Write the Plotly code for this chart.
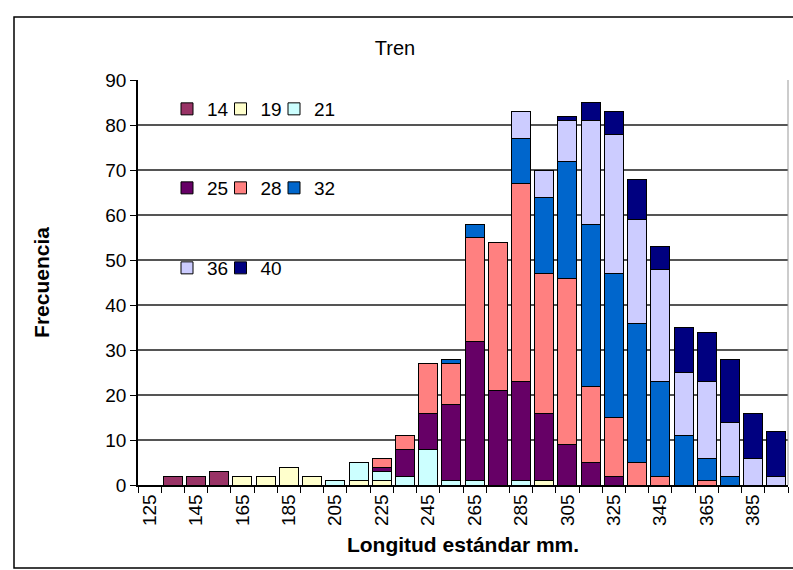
import plotly.graph_objects as go

# Categories (Longitud estándar, mm)
lengths = [125, 135, 145, 155, 165, 175, 185, 195, 205, 215, 225, 235, 245, 255,
           265, 275, 285, 295, 305, 315, 325, 335, 345, 355, 365, 375, 385, 395]

s14 = [0, 2, 2, 3, 0, 0, 0, 0, 0, 0, 0, 0, 0, 0, 0, 0, 0, 0, 0, 0, 0, 0, 0, 0, 0, 0, 0, 0]
s19 = [0, 0, 0, 0, 2, 2, 4, 2, 0, 1, 1, 0, 0, 0, 0, 0, 0, 1, 0, 0, 0, 0, 0, 0, 0, 0, 0, 0]
s21 = [0, 0, 0, 0, 0, 0, 0, 0, 1, 4, 2, 2, 8, 1, 1, 0, 1, 0, 0, 0, 0, 0, 0, 0, 0, 0, 0, 0]
s25 = [0, 0, 0, 0, 0, 0, 0, 0, 0, 0, 1, 6, 8, 17, 31, 21, 22, 15, 9, 5, 2, 0, 0, 0, 0, 0, 0, 0]
s28 = [0, 0, 0, 0, 0, 0, 0, 0, 0, 0, 2, 3, 11, 9, 23, 33, 44, 31, 37, 17, 13, 5, 2, 0, 1, 0, 0, 0]
s32 = [0, 0, 0, 0, 0, 0, 0, 0, 0, 0, 0, 0, 0, 1, 3, 0, 10, 17, 26, 36, 32, 31, 21, 11, 5, 2, 0, 0]
s36 = [0, 0, 0, 0, 0, 0, 0, 0, 0, 0, 0, 0, 0, 0, 0, 0, 6, 6, 9, 23, 31, 23, 25, 14, 17, 12, 6, 2]
s40 = [0, 0, 0, 0, 0, 0, 0, 0, 0, 0, 0, 0, 0, 0, 0, 0, 0, 0, 1, 4, 5, 9, 5, 10, 11, 14, 10, 10]

series_names = ["14", "19", "21", "25", "28", "32", "36", "40"]
series_values = [s14, s19, s21, s25, s28, s32, s36, s40]
series_colors = ["#993366", "#FFFFCC", "#CCFFFF", "#660066", "#FF8080",
                 "#0066CC", "#CCCCFF", "#000080"]
# legend grid position (row, column) inside the plot area, as in the original
legend_rows = [0, 0, 0, 1, 1, 1, 2, 2]
legend_cols = [0, 1, 2, 0, 1, 2, 0, 1]

tick_labels = [125, 145, 165, 185, 205, 225, 245, 265, 285, 305, 325, 345, 365, 385]

FONT = "Liberation Sans, Arial, sans-serif"
PLOT_L, PLOT_W, PLOT_T, PLOT_H = 138, 650, 80, 405
ROW_Y = [109, 188, 268]
COL_X = [167, 220.5, 274]

fig = go.Figure()
legends = {}
for i, (name, vals, col) in enumerate(zip(series_names, series_values, series_colors)):
    lg = "legend" if i == 0 else f"legend{i + 1}"
    fig.add_trace(go.Bar(
        x=lengths,
        y=[v if v else None for v in vals],
        name=name,
        marker=dict(color=col, line=dict(color="#000000", width=1)),
        legend=lg,
        showlegend=True,
    ))
    legends[lg] = dict(
        orientation="h", xanchor="left", yanchor="middle",
        x=(COL_X[legend_cols[i]] - PLOT_L) / PLOT_W,
        y=1 - (ROW_Y[legend_rows[i]] - PLOT_T) / PLOT_H,
        font=dict(family=FONT, size=19, color="#000"),
        bgcolor="rgba(0,0,0,0)", itemwidth=30,
    )

fig.update_layout(
    width=793, height=570,
    showlegend=True,
    margin=dict(l=PLOT_L, r=793 - PLOT_L - PLOT_W, t=PLOT_T, b=570 - PLOT_T - PLOT_H),
    paper_bgcolor="white", plot_bgcolor="white",
    barmode="stack", bargap=0.18,
    font=dict(family=FONT, size=18, color="#000"),
    title=dict(text="Tren", x=395 / 793, xanchor="center",
               y=1 - 48 / 570, yanchor="middle",
               font=dict(family=FONT, size=20, color="#000")),
    xaxis=dict(
        range=[120, 400],
        tickmode="array", tickvals=tick_labels, ticktext=[str(t) for t in tick_labels],
        ticks="", tickangle=-90, showgrid=False, zeroline=False,
        showline=True, linecolor="#000", linewidth=1.5,
        tickfont=dict(family=FONT, size=19, color="#000"),
        minor=dict(tickmode="linear", tick0=120, dtick=10, ticks="outside",
                   ticklen=6, tickcolor="#000", tickwidth=1.2, showgrid=False),
        title=dict(text="<b>Longitud estándar mm.</b>", standoff=12,
                   font=dict(family=FONT, size=21, color="#000")),
    ),
    yaxis=dict(
        range=[0, 90], tickmode="linear", tick0=0, dtick=10,
        ticks="outside", ticklen=6, tickcolor="#000",
        showgrid=True, gridcolor="#555555", gridwidth=1.5,
        zeroline=False, showline=True, linecolor="#000", linewidth=1.5,
        tickfont=dict(family=FONT, size=19, color="#000"),
        title=dict(text="<b>Frecuencia</b>", standoff=50,
                   font=dict(family=FONT, size=21, color="#000")),
    ),
    **legends,
)

# outer chart frame and right plot edge
fig.add_shape(type="rect", xref="paper", yref="paper",
              x0=(14 - PLOT_L) / PLOT_W, x1=1.05,
              y0=-(568 - 485) / PLOT_H, y1=1 + (PLOT_T - 17) / PLOT_H,
              line=dict(color="#000", width=1.5), fillcolor="rgba(0,0,0,0)", layer="below")
fig.add_shape(type="line", xref="paper", yref="paper", x0=1, x1=1, y0=0, y1=1,
              line=dict(color="#999", width=1))

fig.write_html("out.html")
